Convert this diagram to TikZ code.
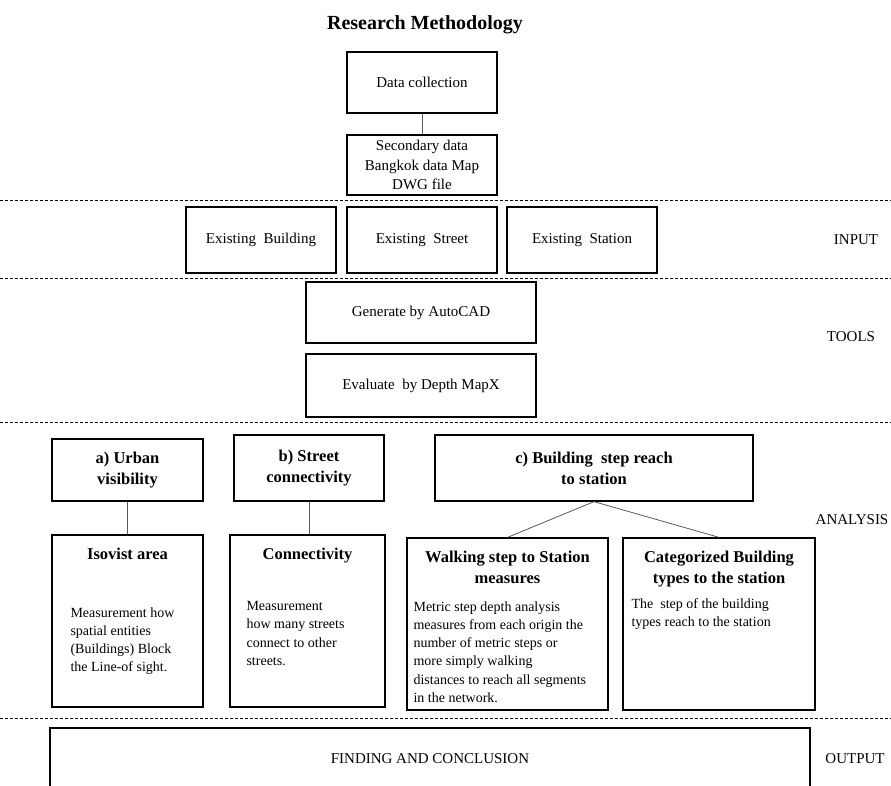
\documentclass[tikz,border=0pt]{standalone}
\usepackage{fontspec}
\setmainfont{Liberation Serif}
\usetikzlibrary{positioning}

\newcommand{\labelfont}{\fontsize{15}{19.5}\selectfont}
\newcommand{\bodyfont}{\fontsize{14}{18.2}\selectfont}
\newcommand{\headfont}{\fontsize{16.5}{21}\selectfont\bfseries}

\tikzset{
  box/.style={draw, line width=1.3pt, align=center, font=\labelfont, inner sep=3pt},
  headbox/.style={box, font=\headfont},
  head/.style={align=center, font=\headfont, inner sep=2pt},
  body/.style={align=left, font=\bodyfont, inner sep=2pt},
  side/.style={font=\labelfont, inner sep=0pt},
  conn/.style={draw=black!65, line width=0.8pt},
  sepline/.style={line width=1pt, dash pattern=on 3pt off 2pt}
}

\begin{document}
\begin{tikzpicture}[x=1pt, y=-1pt]
    \useasboundingbox (0,0) rectangle (891,785);
    \clip (0,0) rectangle (891,785);

    % title
    \node[font=\fontsize{20}{24}\selectfont\bfseries] (title) at (425,25) {Research Methodology};

    % data
    \node[box, minimum width=150pt, minimum height=61pt] (collect) at (422,82.5) {Data collection};
    \node[box, minimum width=150pt, minimum height=60pt] (second) at (422,165)
        {Secondary data\\Bangkok data Map\\DWG file};
    \draw[conn] (collect) -- (second);

    % section lines
    \foreach \y in {200,278,422,718}
        \draw[sepline] (0,\y) -- (891,\y);

    % input
    \node[box, minimum width=150pt, minimum height=66pt] (building) at (261,240) {Existing\ \ Building};
    \node[box, minimum width=150pt, minimum height=66pt] (street) at (422,240) {Existing\ \ Street};
    \node[box, minimum width=150pt, minimum height=66pt] (station) at (582,240) {Existing\ \ Station};
    \node[side] (input) at (856,240) {INPUT};

    % tools
    \node[box, minimum width=230pt, minimum height=61pt] (autocad) at (421,312.5) {Generate by AutoCAD};
    \node[box, minimum width=230pt, minimum height=63pt] (depthmap) at (421,385.5) {Evaluate\ \ by Depth MapX};
    \node[side] (tools) at (851,337) {TOOLS};

    % analysis
    \node[headbox, minimum width=151pt, minimum height=62pt] (urban) at (127.5,470) {a) Urban\\visibility};
    \node[headbox, minimum width=150pt, minimum height=66pt] (streetcon) at (309,468) {b) Street\\connectivity};
    \node[headbox, minimum width=318pt, minimum height=66pt] (reach) at (594,468) {c) Building\ \ step reach\\to station};
    \node[side] (analysis) at (852,520) {ANALYSIS};

    \node[box, minimum width=151pt, minimum height=172pt] (isovist) at (127.5,621) {};
    \node[head, anchor=north] (isohead) at ([yshift=-11pt]isovist.north) {Isovist area};
    \node[body, anchor=north west] (isobody) at ([xshift=17pt, yshift=-71pt]isovist.north west)
        {Measurement how\\spatial entities\\(Buildings) Block\\the Line-of sight.};

    \node[box, minimum width=155pt, minimum height=172pt] (connect) at (307.5,621) {};
    \node[head, anchor=north] (conhead) at ([yshift=-11pt]connect.north) {Connectivity};
    \node[body, anchor=north west] (conbody) at ([xshift=15pt, yshift=-65pt]connect.north west)
        {Measurement\\how many streets\\connect to other\\streets.};

    \node[box, minimum width=201pt, minimum height=172pt] (walking) at (507.5,624) {};
    \node[head, anchor=north] (walkhead) at ([yshift=-11pt]walking.north) {Walking step to Station\\measures};
    \node[body, anchor=north west] (walkbody) at ([xshift=5pt, yshift=-62pt]walking.north west)
        {Metric step depth analysis\\measures from each origin the\\number of metric steps or\\more simply walking\\distances to reach all segments\\in the network.};

    \node[box, minimum width=192pt, minimum height=172pt] (categ) at (719,624) {};
    \node[head, anchor=north] (cathead) at ([yshift=-11pt]categ.north) {Categorized Building\\types to the station};
    \node[body, anchor=north west] (catbody) at ([xshift=7pt, yshift=-59pt]categ.north west)
        {The\ \ step of the building\\types reach to the station};

    \draw[conn] (urban) -- (isovist);
    \draw[conn] (streetcon.south) -- (streetcon.south |- connect.north);
    \draw[conn] (reach.south) -- (walking.north);
    \draw[conn] (reach.south) -- (categ.north);

    % output
    \node[box, minimum width=760pt, minimum height=62pt] (finding) at (430,759) {FINDING AND CONCLUSION};
    \node[side] (output) at (855,759) {OUTPUT};
\end{tikzpicture}
\end{document}
